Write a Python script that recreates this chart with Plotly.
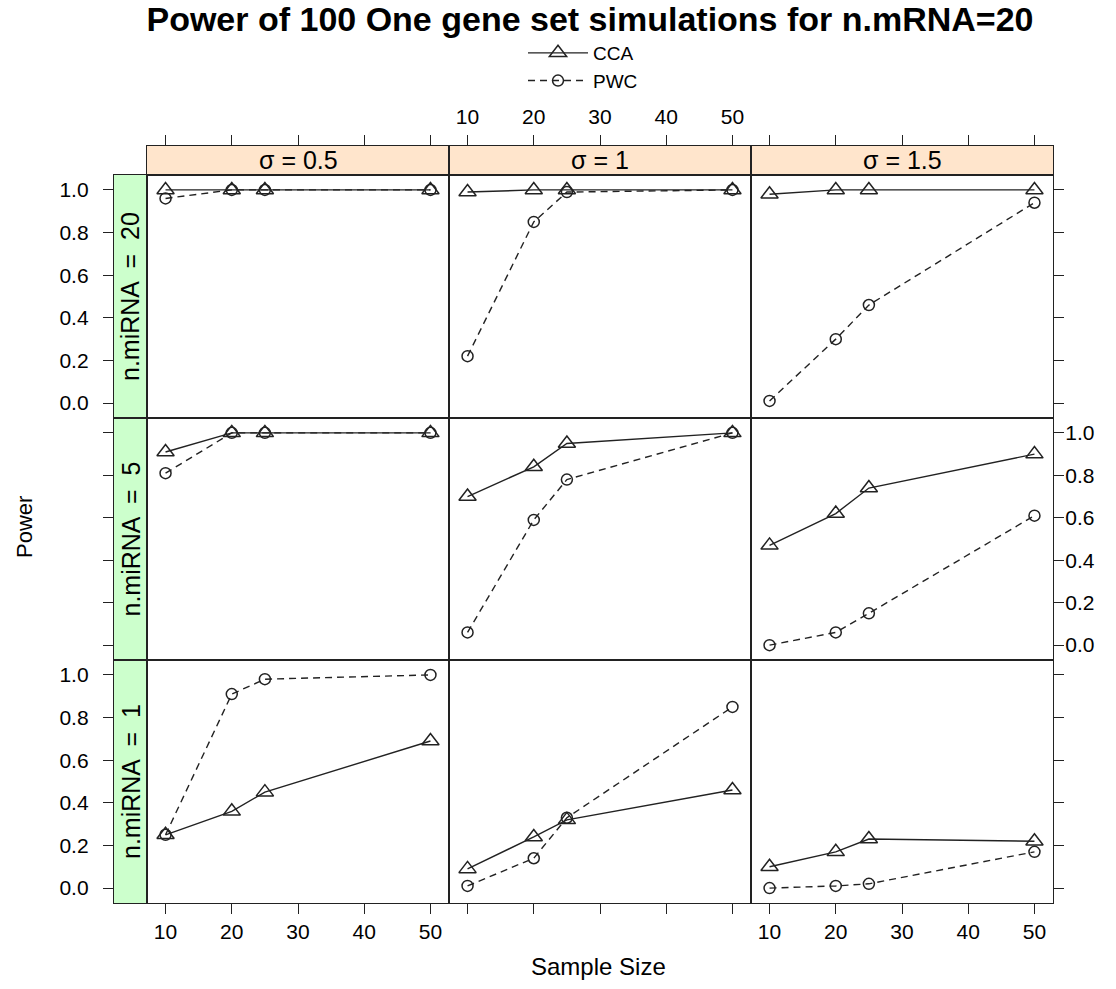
import plotly.graph_objects as go

# ---------------- data ----------------
sample_size = [10, 20, 25, 50]
sigma_labels = ["0.5", "1", "1.5"]          # columns (left -> right)
mirna_labels = ["20", "5", "1"]             # rows (top -> bottom)

# power values, one list per sigma (0.5, 1, 1.5)
cca_mirna20 = [[1.00, 1.00, 1.00, 1.00], [0.99, 1.00, 1.00, 1.00], [0.98, 1.00, 1.00, 1.00]]
pwc_mirna20 = [[0.96, 1.00, 1.00, 1.00], [0.22, 0.85, 0.99, 1.00], [0.01, 0.30, 0.46, 0.94]]
cca_mirna5 = [[0.91, 1.00, 1.00, 1.00], [0.70, 0.84, 0.95, 1.00], [0.47, 0.62, 0.74, 0.90]]
pwc_mirna5 = [[0.81, 1.00, 1.00, 1.00], [0.06, 0.59, 0.78, 1.00], [0.00, 0.06, 0.15, 0.61]]
cca_mirna1 = [[0.25, 0.36, 0.45, 0.69], [0.09, 0.24, 0.32, 0.46], [0.10, 0.17, 0.23, 0.22]]
pwc_mirna1 = [[0.25, 0.91, 0.98, 1.00], [0.01, 0.14, 0.33, 0.85], [0.00, 0.01, 0.02, 0.17]]

cca_rows = [cca_mirna20, cca_mirna5, cca_mirna1]
pwc_rows = [pwc_mirna20, pwc_mirna5, pwc_mirna1]

x_ticks = [10, 20, 30, 40, 50]
y_ticks = [0.0, 0.2, 0.4, 0.6, 0.8, 1.0]

# ---------------- layout geometry (pixels in the page) ----------------
W, H = 1116, 989
col_px = [(147, 449), (449, 751), (751, 1053)]
row_px = [(175, 418), (418, 660), (660, 903)]
top_strip_px = (146, 175)
left_strip_px = (114, 147)

def px_x(v):
    return v / W

def px_y(v):
    return 1 - v / H

FONT = "Liberation Sans, Arial, sans-serif"
TXT = "#000000"
LINE = "#222222"
x_range = [7.2, 52.8]
y_range = [-0.07, 1.07]

fig = go.Figure()
layout = {}

def ax_name(kind, i):
    return kind + ("axis" if i == 1 else "axis%d" % i)

def ref(kind, i):
    return kind if i == 1 else "%s%d" % (kind, i)

tickfont = dict(family=FONT, size=21, color=TXT)

# ---------------- panels ----------------
for r in range(3):
    for c in range(3):
        i = r * 3 + c + 1
        show_leg = (r == 0 and c == 0)
        fig.add_trace(go.Scatter(
            x=sample_size, y=cca_rows[r][c], mode="lines+markers", name="CCA",
            line=dict(color=LINE, width=1.4),
            marker=dict(symbol="triangle-up-open", size=15, color=LINE, line=dict(width=1.5, color=LINE)),
            xaxis=ref("x", i), yaxis=ref("y", i), showlegend=show_leg, legendrank=1))
        fig.add_trace(go.Scatter(
            x=sample_size, y=pwc_rows[r][c], mode="lines+markers", name="PWC",
            line=dict(color=LINE, width=1.4, dash="7px,5px"),
            marker=dict(symbol="circle-open", size=11, color=LINE, line=dict(width=1.5, color=LINE)),
            xaxis=ref("x", i), yaxis=ref("y", i), showlegend=show_leg, legendrank=2))

        xa = dict(domain=[px_x(col_px[c][0]), px_x(col_px[c][1])], range=x_range,
                  anchor=ref("y", i), showline=True, linecolor=LINE, linewidth=1.3, mirror=True,
                  showgrid=False, zeroline=False, tickvals=x_ticks, tickfont=tickfont)
        if r == 2:
            xa.update(ticks="outside", ticklen=10, tickwidth=1.3, tickcolor=LINE,
                      showticklabels=(c != 1), ticklabelstandoff=0)
        else:
            xa.update(ticks="", showticklabels=False)
        ya = dict(domain=[px_y(row_px[r][1]), px_y(row_px[r][0])], range=y_range,
                  anchor=ref("x", i), showline=True, linecolor=LINE, linewidth=1.3, mirror=True,
                  showgrid=False, zeroline=False, tickvals=y_ticks, tickformat=".1f", tickfont=tickfont)
        if c == 2:
            ya.update(side="right", ticks="outside", ticklen=10, tickwidth=1.3, tickcolor=LINE,
                      showticklabels=(r == 1), ticklabelstandoff=-3)
        else:
            ya.update(ticks="", showticklabels=False)
        layout[ax_name("x", i)] = xa
        layout[ax_name("y", i)] = ya

shapes = []
annotations = []

# ---------------- top strips (sigma) ----------------
for c in range(3):
    i = 10 + c
    fig.add_trace(go.Scatter(x=[], y=[], xaxis=ref("x", i), yaxis=ref("y", i), showlegend=False))
    layout[ax_name("x", i)] = dict(
        domain=[px_x(col_px[c][0]), px_x(col_px[c][1])], range=x_range, anchor=ref("y", i),
        side="top", showline=True, linecolor=LINE, linewidth=1.3, mirror=True, showgrid=False,
        zeroline=False, tickvals=x_ticks, ticks="outside", ticklen=10, tickwidth=1.3, tickcolor=LINE,
        showticklabels=(c == 1), tickfont=tickfont, ticklabelstandoff=2)
    layout[ax_name("y", i)] = dict(
        domain=[px_y(top_strip_px[1]), px_y(top_strip_px[0])], range=[0, 1], anchor=ref("x", i),
        showline=True, linecolor=LINE, linewidth=1.3, mirror=True, showgrid=False, zeroline=False,
        ticks="", showticklabels=False)
    shapes.append(dict(type="rect", xref="paper", yref="paper", layer="below",
                       x0=px_x(col_px[c][0]), x1=px_x(col_px[c][1]),
                       y0=px_y(top_strip_px[1]), y1=px_y(top_strip_px[0]),
                       fillcolor="#ffe5cc", line=dict(width=0)))
    annotations.append(dict(text="σ = " + sigma_labels[c], xref="paper", yref="paper",
                            x=px_x((col_px[c][0] + col_px[c][1]) / 2),
                            y=px_y((top_strip_px[0] + top_strip_px[1]) / 2),
                            showarrow=False, xanchor="center", yanchor="middle",
                            font=dict(family=FONT, size=25, color=TXT)))

# ---------------- left strips (n.miRNA) ----------------
for r in range(3):
    i = 13 + r
    fig.add_trace(go.Scatter(x=[], y=[], xaxis=ref("x", i), yaxis=ref("y", i), showlegend=False))
    layout[ax_name("x", i)] = dict(
        domain=[px_x(left_strip_px[0]), px_x(left_strip_px[1])], range=[0, 1], anchor=ref("y", i),
        showline=True, linecolor=LINE, linewidth=1.3, mirror=True, showgrid=False, zeroline=False,
        ticks="", showticklabels=False)
    layout[ax_name("y", i)] = dict(
        domain=[px_y(row_px[r][1]), px_y(row_px[r][0])], range=y_range, anchor=ref("x", i),
        side="left", showline=True, linecolor=LINE, linewidth=1.3, mirror=True, showgrid=False,
        zeroline=False, tickvals=y_ticks, tickformat=".1f", ticks="outside", ticklen=10,
        tickwidth=1.3, tickcolor=LINE, showticklabels=(r != 1), tickfont=tickfont,
        ticklabelstandoff=10)
    shapes.append(dict(type="rect", xref="paper", yref="paper", layer="below",
                       x0=px_x(left_strip_px[0]), x1=px_x(left_strip_px[1]),
                       y0=px_y(row_px[r][1]), y1=px_y(row_px[r][0]),
                       fillcolor="#ccffcc", line=dict(width=0)))
    annotations.append(dict(text="n.miRNA  =  " + mirna_labels[r], xref="paper", yref="paper",
                            x=px_x((left_strip_px[0] + left_strip_px[1]) / 2),
                            y=px_y((row_px[r][0] + row_px[r][1]) / 2),
                            showarrow=False, textangle=-90, xanchor="center", yanchor="middle",
                            font=dict(family=FONT, size=25, color=TXT)))

# ---------------- axis titles ----------------
annotations.append(dict(text="Power", xref="paper", yref="paper", x=px_x(24), y=px_y(527),
                        showarrow=False, textangle=-90, xanchor="center", yanchor="middle",
                        font=dict(family=FONT, size=22, color=TXT)))
annotations.append(dict(text="Sample Size", xref="paper", yref="paper", x=px_x(598), y=px_y(966),
                        showarrow=False, xanchor="center", yanchor="middle",
                        font=dict(family=FONT, size=24, color=TXT)))

fig.update_layout(
    **layout,
    width=W, height=H,
    margin=dict(l=0, r=0, t=0, b=0),
    paper_bgcolor="white", plot_bgcolor="rgba(0,0,0,0)",
    title=dict(text="<b>Power of 100 One gene set simulations for n.mRNA=20</b>",
               x=px_x(590), xanchor="center", y=px_y(19), yanchor="middle",
               font=dict(family=FONT, size=34, color=TXT)),
    legend=dict(orientation="v", x=px_x(583), xanchor="center", y=px_y(34), yanchor="top",
                font=dict(family=FONT, size=19, color=TXT), bgcolor="rgba(0,0,0,0)",
                tracegroupgap=0, itemwidth=60),
    shapes=shapes, annotations=annotations,
    showlegend=True,
)

fig.write_html("out.html", config={"displayModeBar": False},
               post_script="document.body.style.margin='0px';")
